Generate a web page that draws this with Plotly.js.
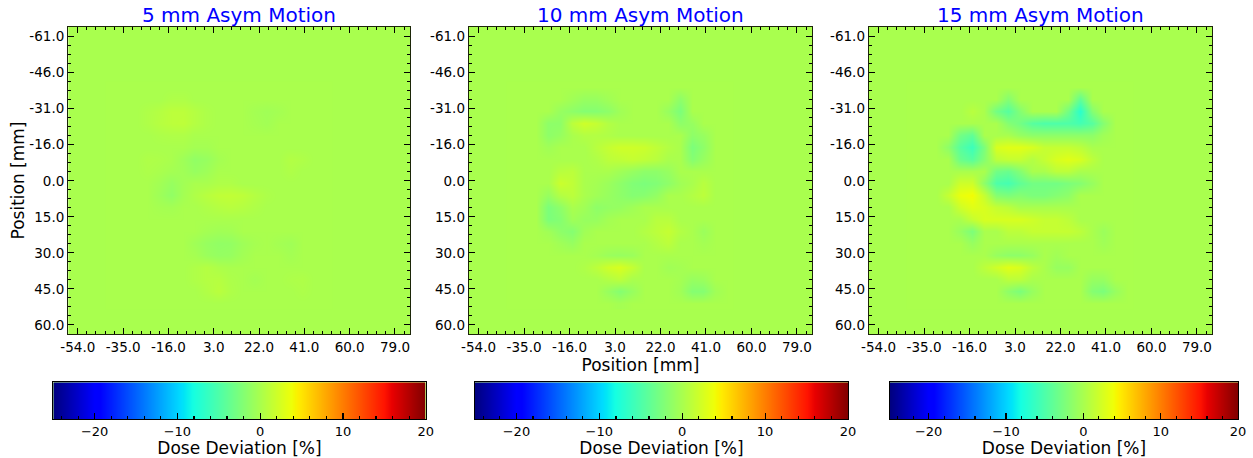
<!DOCTYPE html>
<html><head><meta charset="utf-8">
<script src="https://cdn.plot.ly/plotly-3.0.1.min.js"></script>
<style>html,body{margin:0;padding:0;background:#fff}</style>
</head><body><div id="chart" style="width:1253px;height:458px"></div>
<script>
// ---------------- data ----------------
const panelTitles = ['5 mm Asym Motion', '10 mm Asym Motion', '15 mm Asym Motion'];
const xGrid = [-40,-35,-30,-25,-20,-15,-10,-5,0,5,10,15,20,25,30,35,40,45,50];
const yGrid = [-40,-35,-30,-25,-20,-15,-10,-5,0,5,10,15,20,25,30,35,40,45,50];

const z5 = [
 [0,0,0,0,0,0,0,0,0,0,0,0,0,0,0,0,0,0,0],
 [0,0,0,0,0,0.3,0.3,0,0,0,0,0,0,0,0,0,0,0,0],
 [0,0,0,0.3,0.6,1,1,0.6,0.2,0,0,0,-0.3,-0.5,-0.3,0,0,0,0],
 [0,0,0,0.3,0.7,1,1.1,0.6,0.2,0,0,0,-0.2,-0.4,0,0,0,0,0],
 [0,0,0,0,0.2,0.3,0.3,0,0,0,0,0,0,0,0,0,0,0,0],
 [0,0,0,0,0,0,0,-0.3,-0.3,0,0,0,0,0,0,0,0,0,0],
 [0,0,0,0.3,0.2,0,-0.6,-1.3,-1,-0.3,0,0,0,0,0,0.5,0.3,0,0],
 [0,0,0,0.2,0,-0.3,-0.5,-1,-0.6,0,0,0,0,0,0,0.3,0,0,0],
 [0,0,0,0,-0.4,-1,-0.4,0,0,0.3,0.3,0,0,0,0,0,0,0,0],
 [0,0,0,0,-0.6,-1.3,-0.3,0.3,0.8,1.2,1.3,1.1,0.6,0.2,0,0,0,0,0],
 [0,0,0,0,-0.2,-0.3,0,0,0.3,0.6,0.8,0.6,0.3,0,0,0,0,0,0],
 [0,0,0,0,0,0,0,0,0,0,0,0,0,0,0,0,0,0,0],
 [0,0,0,0,0,0,0,0,-0.3,-0.5,-0.4,0,0,0,0,0,0,0,0],
 [0,0,0,0,0,0,0,-0.5,-1,-1.3,-1.2,-0.6,-0.2,0,-0.3,-0.5,0,0,0],
 [0,0,0,0,0,0,0,-0.2,-0.8,-1.1,-1,-0.4,0,0,0,-0.3,0,0,0],
 [0,0,0,0,0,0,0,0.3,0.6,0.2,0,0,0,0,0,0,0,0,0],
 [0,0,0,0,0,0,0,0.3,0.6,0.7,0.2,0,-0.3,0,0,0.2,0.3,0,0],
 [0,0,0,0,0,0,0,0,0.4,0.9,0.3,0,0,0,0,0,0.2,0,0],
 [0,0,0,0,0,0,0,0,0,0,0,0,0,0,0,0,0,0,0]
];

const z10 = [
 [0,0,0,0,0,0,0,0,0,0,0,0,0,0,0,0,0,0,0],
 [0,0,0,0,0,-0.5,-1,-1,-0.5,0,0,0,0,0,-1.5,0,0,0,0],
 [0,0,0,0,-1,-1.5,-2,-2,-1.5,-0.5,0,0,0,-1,-2.5,0,0,0,0],
 [0,0,0,-1.5,-1.5,1,2,1.5,0.5,0,0,0,0,0,-1.5,-1,0,0,0],
 [0,0,0,-1.5,-1,0,0.5,0.5,0.3,0,0,0,0,0,0,-1.5,-1,0,0],
 [0,0,0,-0.5,0,0,0,0.8,1.5,2,2,1.8,1.2,0.5,0,-2.5,-1.5,0,0],
 [0,0,0,0,0,0,0,0.3,1,1.2,1.5,1.2,0.8,0,0,-2,-1,0,0],
 [0,0,0,0,0.8,1,0,0,0,-0.5,-1,-1.5,-1.5,-1,0,0,0,0,0],
 [0,0,0,0,1.8,1.2,0,-0.3,-0.8,-1.5,-2.2,-2.5,-2.2,-1.5,-0.5,0,0.8,0,0],
 [0,0,0,-1,0.5,1,0,-0.5,-1,-1.5,-2,-1.8,-1.2,0,0,0.5,1,0,0],
 [0,0,0,-2.5,-1.5,0,-0.5,-1.5,-1.2,-1,-0.5,0,0,0,0,0,0,0,0],
 [0,0,0,-2.5,-2,-0.5,-1,-1,-0.3,0,0,0,0.8,0.8,0,0,0,0,0],
 [0,0,0,-0.5,-1.5,-2,-0.5,0,0,0,0,0.5,1,1.5,0.5,0,-0.8,0,0],
 [0,0,0,0,-0.5,-1,0,0,0,0,0,0,0.5,1,0,0,-0.3,0,0],
 [0,0,0,0,0,0,0,-0.3,-0.8,-1,-0.8,0,0,0,0,0,0,0,0],
 [0,0,0,0,0,0,0.3,1,2,2.5,1.5,0,0,-0.5,-0.3,0,0,0,0],
 [0,0,0,0,0,0,0,0,0.5,1,0,0,0,0,-0.3,-1,-0.8,0,0],
 [0,0,0,0,0,0,0,0,-1,-2,-1,0,0,0,-0.5,-2,-2,-0.5,0],
 [0,0,0,0,0,0,0,0,0,-0.3,0,0,0,0,0,0,0,0,0]
];

const z15 = [
 [0,0,0,0,0,0,0,0,0,0,0,0,0,0,0,0,0,0,0],
 [0,0,0,0,0,0,0,0,-2,0,0,0,0,0,-4,0,0,0,0],
 [0,0,0,0,0,0.8,0,-3,-4.5,-2,0,0,0,-3,-7,-2,0,0,0],
 [0,0,0,0,0,0,0,0,-2,-3,-4.5,-5,-5,-5,-5.5,-4.5,-2,0,0],
 [0,0,0,0,-3,-4,0,0,0,-1,-1.5,-1.5,-1.5,-1.5,-1.5,-1.5,-0.5,0,0],
 [0,0,0,-1.5,-4.5,-6,-2.5,2.5,3,3,2.5,1.5,1.5,1.5,1,0,0,0,0],
 [0,0,0,0,-3.5,-4.5,-2,1,1.5,1.5,0.5,1.5,2.5,3,2.5,1,0,0,0],
 [0,0,0,0,0,0,0,-3,-3.5,-2,0,0,1,1,0,0,0,0,0],
 [0,0,0,0,2,2,-1.5,-5,-5.5,-4,-3,-3,-3,-2.5,-2,-1,0,0,0],
 [0,0,0,1.5,3.5,4,1.5,-2,-2.5,-2,-2.5,-2.5,-2,-1.5,0,0,0,0,0],
 [0,0,0,0,2,3,2.5,1.5,1,0,0,0,0,0,0,0,0,0,0],
 [0,0,0,0,0,1.5,2.5,2.5,2.5,2.5,2,1.5,1.5,1,0,0,0,0,0],
 [0,0,0,0,-1,-2.5,0,0,1,1,1.5,1.5,1.5,1.5,1,0,-0.8,0,0],
 [0,0,0,0,0,-1,0,0,0,0,0,0,0,0,0,0,-0.5,0,0],
 [0,0,0,0,0,0,0,-1,-1.5,-1.5,-1,0,-0.5,0,0,0,0,0,0],
 [0,0,0,0,0,0,1,2,3,2.5,1,0,-1,-1,0,0,0,0,0],
 [0,0,0,0,0,0,0,0,1,1,0,0,0,0,0,-1,-1,0,0],
 [0,0,0,0,0,0,0,0,-1.5,-2.5,-1,0,0,0,0,-2,-2.5,-1,0],
 [0,0,0,0,0,0,0,0,0,0,0,0,0,0,0,0,0,0,0]
];

const xTickVals = [-54,-35,-16,3,22,41,60,79];
const xTickText = ['-54.0','-35.0','-16.0','3.0','22.0','41.0','60.0','79.0'];
const yTickVals = [-61,-46,-31,-16,-1,14,29,44,59];
const yTickText = ['-61.0','-46.0','-31.0','-16.0','0.0','15.0','30.0','45.0','60.0'];
const cbTickVals = [-20,-10,0,10,20];
const zMin = -25, zMax = 20;
const xRange = [-58, 85.3];
const yRange = [62.75, -65];

// ---------------- colormap (matplotlib jet) ----------------
const jetSeg = {
  r: [[0,0],[0.35,0],[0.66,1],[0.89,1],[1,0.5]],
  g: [[0,0],[0.125,0],[0.375,1],[0.64,1],[0.91,0],[1,0]],
  b: [[0,0.5],[0.11,1],[0.34,1],[0.65,0],[1,0]]
};
function seg(s, t) {
  for (let i = 1; i < s.length; i++) {
    if (t <= s[i][0]) { const a = s[i-1], b = s[i]; return a[1] + (b[1]-a[1])*(t-a[0])/(b[0]-a[0]); }
  }
  return s[s.length-1][1];
}
function jet(t) { return 'rgb(' + [seg(jetSeg.r,t), seg(jetSeg.g,t), seg(jetSeg.b,t)].map(v => Math.round(v*255)).join(',') + ')'; }
const stops = [0,0.11,0.125,0.34,0.35,0.375,0.64,0.65,0.66,0.89,0.91,1];
const colorscale = stops.map(t => [t, jet(t)]);
const bgColor = jet((0 - zMin)/(zMax - zMin));

// ---------------- layout geometry ----------------
const W = 1253, H = 458;
const plotPx = [[68.3,410],[469,812],[869,1212]];
const plotTop = 27, plotBot = 334;
const cbPx = [[53.3,425.7],[475,848],[890,1238]];
const cbTop = 382.3, cbBot = 419.3;
const zs = [z5, z10, z15];

const FONT = 'DejaVu Sans, Liberation Sans, sans-serif';
const TICK = 13.5;
const traces = [];
const layout = {
  width: W, height: H,
  margin: {l:0, r:0, t:0, b:0},
  paper_bgcolor: '#fff', plot_bgcolor: bgColor,
  font: {family: FONT, color: '#000', size: 13},
  showlegend: false,
  annotations: []
};

for (let i = 0; i < 3; i++) {
  const n = i === 0 ? '' : String(i+1);
  traces.push({
    type: 'heatmap', x: xGrid, y: yGrid, z: zs[i],
    xaxis: 'x' + n, yaxis: 'y' + n,
    zmin: zMin, zmax: zMax, colorscale: colorscale, zsmooth: 'best',
    showscale: false, hoverinfo: 'skip'
  });
  layout['xaxis' + n] = {
    domain: [plotPx[i][0]/W, plotPx[i][1]/W], anchor: 'y' + n,
    range: xRange, tickmode: 'array', tickvals: xTickVals, ticktext: xTickText,
    ticks: 'inside', ticklen: 6, tickwidth: 1, tickcolor: '#000',
    minor: {tickmode: 'linear', tick0: -54, dtick: 3.8, ticks: 'inside', ticklen: 3, tickcolor: '#000', showgrid: false},
    showline: true, linecolor: '#1c2608', linewidth: 1.3, mirror: 'allticks',
    showgrid: false, zeroline: false, fixedrange: true,
    tickfont: {size: TICK, color: '#000'}
  };
  layout['yaxis' + n] = {
    domain: [1 - plotBot/H, 1 - plotTop/H], anchor: 'x' + n,
    range: yRange, tickmode: 'array', tickvals: yTickVals, ticktext: yTickText,
    ticks: 'inside', ticklen: 6, tickwidth: 1, tickcolor: '#000',
    minor: {tickmode: 'linear', tick0: -61, dtick: 3.75, ticks: 'inside', ticklen: 3, tickcolor: '#000', showgrid: false},
    showline: true, linecolor: '#1c2608', linewidth: 1.3, mirror: 'allticks',
    showgrid: false, zeroline: false, fixedrange: true,
    tickfont: {size: TICK, color: '#000'}
  };
  layout.annotations.push({
    xref: 'paper', yref: 'paper', x: (plotPx[i][0] + plotPx[i][1])/2/W, y: 1 - 15.5/H,
    xanchor: 'center', yanchor: 'middle', showarrow: false,
    text: panelTitles[i], font: {size: 20, color: '#0000ff', family: FONT}
  });

  // colour bar drawn as its own axes
  const cn = String(i + 4);
  traces.push({
    type: 'heatmap', x: [zMin, zMax], y: [0], z: [[zMin, zMax]],
    xaxis: 'x' + cn, yaxis: 'y' + cn,
    zmin: zMin, zmax: zMax, colorscale: colorscale, zsmooth: 'best',
    showscale: false, hoverinfo: 'skip'
  });
  layout['xaxis' + cn] = {
    domain: [cbPx[i][0]/W, cbPx[i][1]/W], anchor: 'y' + cn,
    range: [zMin, zMax], tickmode: 'array', tickvals: cbTickVals,
    ticks: 'inside', ticklen: 6, tickwidth: 1.2, tickcolor: '#000',
    minor: {tickmode: 'linear', tick0: 0, dtick: 2, ticks: 'inside', ticklen: 3, tickcolor: '#000', showgrid: false},
    showline: true, linecolor: '#000', linewidth: 1, mirror: true,
    showgrid: false, zeroline: false, fixedrange: true,
    tickfont: {size: 13, color: '#000'},
    title: {text: 'Dose Deviation [%]', font: {size: 17, color: '#000'}, standoff: 4}
  };
  layout['yaxis' + cn] = {
    domain: [1 - cbBot/H, 1 - cbTop/H], anchor: 'x' + cn,
    range: [-0.5, 0.5], showticklabels: false, ticks: '',
    showline: true, linecolor: '#000', linewidth: 1, mirror: true,
    showgrid: false, zeroline: false, fixedrange: true
  };
}
layout.yaxis.title = {text: 'Position [mm]', font: {size: 17, color: '#000'}, standoff: 0};
layout.xaxis2.title = {text: 'Position [mm]', font: {size: 17, color: '#000'}, standoff: 0};

Plotly.newPlot('chart', traces, layout, {displayModeBar: false, staticPlot: true});
</script>
</body></html>
